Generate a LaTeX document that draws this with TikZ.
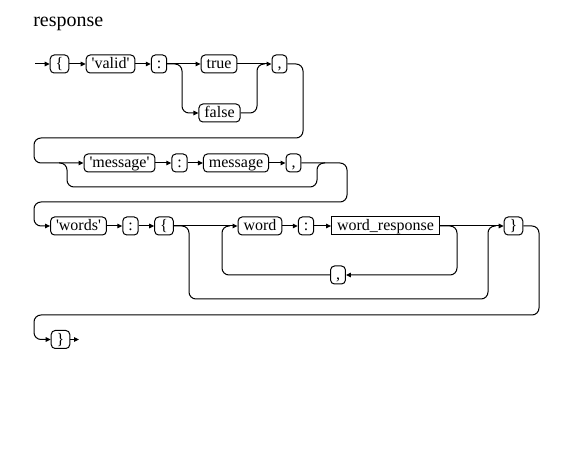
\documentclass[tikz,border=0pt]{standalone}
\usepackage{fontspec}
\setmainfont{Liberation Serif}
\usetikzlibrary{arrows.meta}
\newcommand{\sq}{\textquotesingle}
\begin{document}
\begin{tikzpicture}[x=0.75pt,y=-0.75pt,
  term/.style={draw,rounded corners=3pt,minimum height=13.5pt,inner xsep=4.1pt,
    inner ysep=0pt,text height=9.4pt,text depth=2pt,line width=0.75pt,
    font=\fontsize{12pt}{14pt}\selectfont},
  nonterm/.style={term,rounded corners=0pt},
  rail/.style={line width=0.75pt,rounded corners=5.25pt},
  tip/.style={-{Triangle[length=3.75pt,width=3.4pt]}},
]
\useasboundingbox (0,0) rectangle (587,467);

\node[anchor=base west,inner sep=0pt,font=\fontsize{15pt}{18pt}\selectfont] (title) at (33,27) {response};

% first row: { 'valid' : (true|false) ,
\node[term] (lb1)   at (59.5,64)  {\{};
\node[term] (valid) at (110.5,64) {\sq valid\sq};
\node[term] (col1)  at (159,64)   {:};
\node[term] (tru)   at (219,64)   {true};
\node[term] (fls)   at (219.5,113){false};
\node[term] (com1)  at (279.5,64) {,};

% second row: optional 'message' : message ,
\node[term] (msgkey) at (119.5,163) {\sq message\sq};
\node[term] (col2)   at (179.5,163) {:};
\node[term] (msg)    at (236,163)   {message};
\node[term] (com2)   at (293.5,163) {,};

% third row: 'words' : { word : word_response (, ...) }
\node[term]    (wordskey) at (78.5,226) {\sq words\sq};
\node[term]    (col3)     at (130.5,226){:};
\node[term]    (lb2)      at (164,226)  {\{};
\node[term]    (word)     at (260,226)  {word};
\node[term]    (col4)     at (306,226)  {:};
\node[nonterm] (wr)       at (385.5,226){word\_response};
\node[term]    (com3)     at (338,275)  {,};
\node[term]    (rb1)      at (513.5,226){\}};

% last row
\node[term] (rb2) at (60.5,339.5) {\}};

% junction and turn points
\coordinate (s1) at (35,64);
\coordinate (f1) at (182,64);
\coordinate (m1) at (257,64);
\coordinate (r1) at (303,138);
\coordinate (l1) at (34,138);
\coordinate (f2) at (67,163);
\coordinate (m2) at (317,187);
\coordinate (r2) at (347,202);
\coordinate (l2) at (34,202);
\coordinate (f3) at (189,226);
\coordinate (m3) at (488,299);
\coordinate (lr) at (457,226);
\coordinate (ll) at (222,226);
\coordinate (r3) at (539,315);
\coordinate (l3) at (34,315);
\coordinate (e4) at (79,339.5);

% row 1
\draw[rail,tip] (s1) -- (lb1.west);
\draw[rail,tip] (lb1.east) -- (valid.west);
\draw[rail,tip] (valid.east) -- (col1.west);
\draw[rail,tip] (col1.east) -- (tru.west);
\draw[rail,tip] (col1.east) -- (f1) |- (fls.west);
\draw[rail,tip] (tru.east) -- (com1.west);
\draw[rail] (fls.east) -| (m1) -- ++(8,0);
\draw[rail,tip] (com1.east) -| (r1) -- (l1) |- (msgkey.west);

% row 2
\draw[rail] (f2) ++(-8,0) -- (f2) |- (m2) -- (m2 |- f2) -- ++(8,0);
\draw[rail,tip] (msgkey.east) -- (col2.west);
\draw[rail,tip] (col2.east) -- (msg.west);
\draw[rail,tip] (msg.east) -- (com2.west);
\draw[rail,tip] (com2.east) -| (r2) -- (l2) |- (wordskey.west);

% row 3
\draw[rail,tip] (wordskey.east) -- (col3.west);
\draw[rail,tip] (col3.east) -- (lb2.west);
\draw[rail,tip] (lb2.east) -- (word.west);
\draw[rail] (lb2.east) -- (f3) |- (m3) -- (m3 |- f3) -- ++(8,0);
\draw[rail,tip] (word.east) -- (col4.west);
\draw[rail,tip] (col4.east) -- (wr.west);
\draw[rail,tip] (wr.east) -- (rb1.west);
\draw[rail,tip] (wr.east) -- (lr) |- (com3.east);
\draw[rail] (com3.west) -| (ll) -- ++(8,0);
\draw[rail,tip] (rb1.east) -| (r3) -- (l3) |- (rb2.west);

% row 4
\draw[rail,tip] (rb2.east) -- (e4);
\end{tikzpicture}
\end{document}
